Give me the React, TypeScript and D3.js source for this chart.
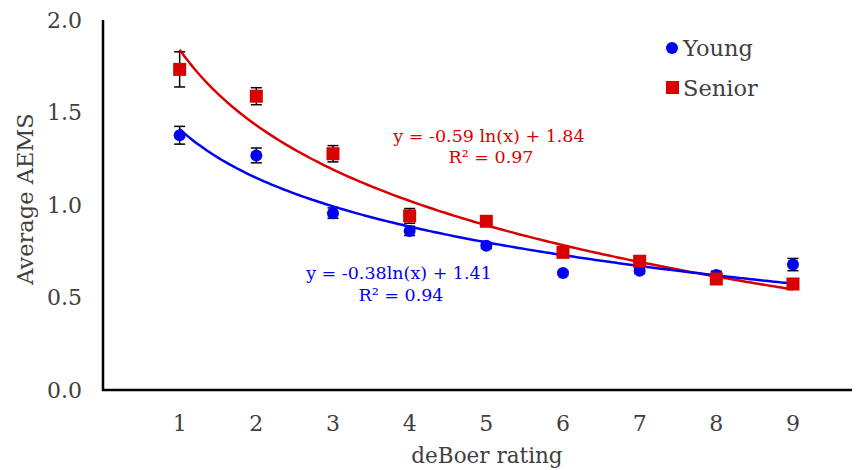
import React from "react";
import * as d3 from "d3";

const ratings = [1, 2, 3, 4, 5, 6, 7, 8, 9];
const young = [1.377, 1.268, 0.956, 0.86, 0.78, 0.632, 0.645, 0.622, 0.678];
const youngErr = [0.048, 0.04, 0.028, 0.025, 0.015, 0.01, 0.015, 0.02, 0.033];
const senior = [1.733, 1.588, 1.277, 0.941, 0.912, 0.744, 0.696, 0.6, 0.573];
const seniorErr = [0.095, 0.046, 0.044, 0.04, 0.02, 0.015, 0.015, 0.015, 0.015];
const yTicks = [0, 0.5, 1.0, 1.5, 2.0];

// log trendlines as printed on the chart
const youngFit = { a: -0.38, b: 1.41, label: "y = -0.38ln(x) + 1.41", r2: "R² = 0.94" };
const seniorFit = { a: -0.59, b: 1.84, label: "y = -0.59 ln(x) + 1.84", r2: "R² = 0.97" };

const W = 857, H = 470;
const left = 103, right = 852, top = 20, bottom = 390;
const font = "'DejaVu Serif', serif";
const textCol = "#404040";
const blue = "#0000f5";
const red = "#d90000";

export default function App() {
  const x = d3.scaleLinear().domain([0, 9.77]).range([left, right]);
  const y = d3.scaleLinear().domain([0, 2]).range([bottom, top]);

  const fitLine = (fit: { a: number; b: number }) =>
    d3.line<number>()
      .x((d) => x(d))
      .y((d) => y(fit.a * Math.log(d) + fit.b))
      .curve(d3.curveMonotoneX)(d3.range(1, 9.0001, 0.05));

  const errBars = (vals: number[], errs: number[]) =>
    vals.map((v, i) => {
      const cx = x(ratings[i]);
      const y1 = y(v + errs[i]), y2 = y(v - errs[i]);
      return (
        <g key={i} stroke="#000" strokeWidth={1.5}>
          <line x1={cx} x2={cx} y1={y1} y2={y2} />
          <line x1={cx - 5.5} x2={cx + 5.5} y1={y1} y2={y1} />
          <line x1={cx - 5.5} x2={cx + 5.5} y1={y2} y2={y2} />
        </g>
      );
    });

  return (
    <svg width={W} height={H} style={{ position: "absolute", left: 0, top: 0 }} fontFamily={font}>
      <rect width={W} height={H} fill="#fff" />

      {/* axes frame */}
      <path d={`M${left},${top}V${bottom}H${right}`} fill="none" stroke="#000" strokeWidth={2.5} />

      {yTicks.map((t) => (
        <text key={t} x={left - 21} y={y(t)} dy="0.35em" textAnchor="end" fontSize={22} fill={textCol}>
          {t.toFixed(1)}
        </text>
      ))}
      {ratings.map((r) => (
        <text key={r} x={x(r)} y={423} dy="0.35em" textAnchor="middle" fontSize={22} fill={textCol}>
          {r}
        </text>
      ))}
      <text x={487} y={455} dy="0.35em" textAnchor="middle" fontSize={21.5} fill={textCol}>deBoer rating</text>
      <text transform="translate(25,199) rotate(-90)" dy="0.35em" textAnchor="middle" fontSize={22.5} fill={textCol}>
        Average AEMS
      </text>

      {errBars(senior, seniorErr)}
      {errBars(young, youngErr)}

      <path d={fitLine(seniorFit) || ""} fill="none" stroke={red} strokeWidth={2.5} />
      <path d={fitLine(youngFit) || ""} fill="none" stroke={blue} strokeWidth={2.5} />

      {young.map((v, i) => (
        <circle key={i} cx={x(ratings[i])} cy={y(v)} r={6} fill={blue} />
      ))}
      {senior.map((v, i) => (
        <rect key={i} x={x(ratings[i]) - 6.5} y={y(v) - 6.5} width={13} height={13} fill={red} />
      ))}

      <text x={489} y={136} dy="0.35em" textAnchor="middle" fontSize={17.5} fill={red}>{seniorFit.label}</text>
      <text x={491} y={157} dy="0.35em" textAnchor="middle" fontSize={17.5} fill={red}>{seniorFit.r2}</text>
      <text x={399} y={273} dy="0.35em" textAnchor="middle" fontSize={17.5} fill={blue}>{youngFit.label}</text>
      <text x={401} y={295} dy="0.35em" textAnchor="middle" fontSize={17.5} fill={blue}>{youngFit.r2}</text>

      {/* legend */}
      <circle cx={672} cy={48} r={6} fill={blue} />
      <text x={683} y={48} dy="0.35em" fontSize={22.5} fill={textCol}>Young</text>
      <rect x={666} y={81} width={13} height={13} fill={red} />
      <text x={683} y={88} dy="0.35em" fontSize={22.5} fill={textCol}>Senior</text>
    </svg>
  );
}
